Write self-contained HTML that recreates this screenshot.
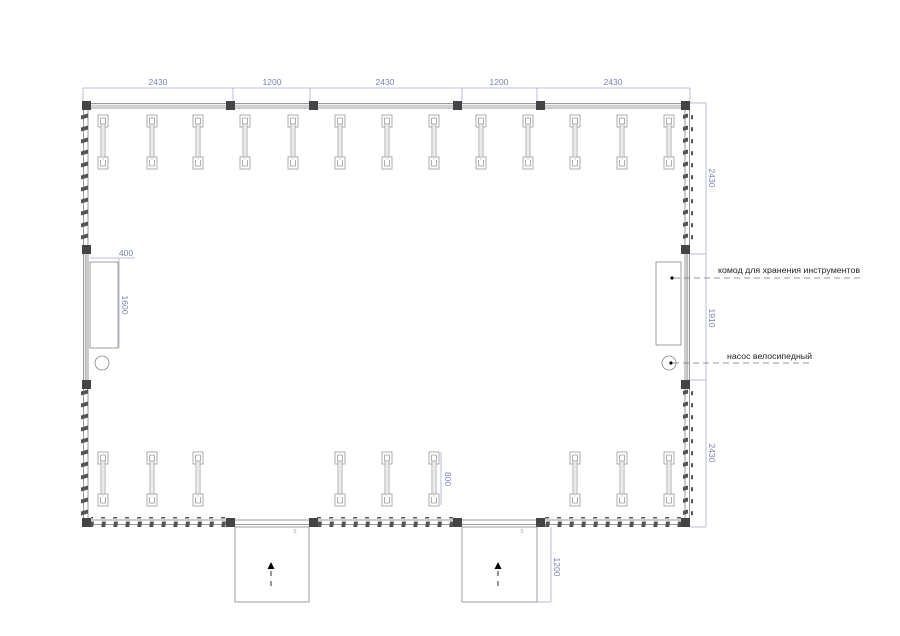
<!DOCTYPE html>
<html><head><meta charset="utf-8"><style>
html,body{margin:0;padding:0;background:#fff;width:900px;height:636px;overflow:hidden}
svg{display:block}
.d{font-family:"Liberation Sans",sans-serif;font-size:8.5px;fill:#7b80b0}
.t{font-family:"Liberation Sans",sans-serif;font-size:8.6px;fill:#222}
</style></head><body>
<svg width="900" height="636" viewBox="0 0 900 636" xmlns="http://www.w3.org/2000/svg">
<defs>
<pattern id="bh" x="1" y="0" width="12" height="10" patternUnits="userSpaceOnUse">
<polygon points="5,1.5 9,1.5 8,8.5 4,8.5" fill="#555"/>
</pattern>
<pattern id="bv" x="0" y="2" width="10" height="12" patternUnits="userSpaceOnUse">
<polygon points="1,5.5 8,3.5 8,7.5 1,9.5" fill="#555"/>
</pattern>
<g id="rack" fill="none" stroke="#999" stroke-width="0.8">
<rect x="-5" y="0" width="10" height="12"/>
<path d="M-2.5,3 V9 M2.5,3 V9 M-2.5,3 H2.5"/>
<rect x="-2" y="9" width="4" height="35" fill="#fff"/>
<rect x="-5" y="42" width="10" height="12" fill="#fff"/>
<path d="M-2.5,45 V51 H2.5 V45"/>
<line x1="0" y1="9" x2="0" y2="45" stroke="#ccc"/>
</g>
</defs>

<g stroke="#a9acd0" stroke-width="0.8" fill="none">
<line x1="83" y1="88" x2="690" y2="88"/>
<line x1="83" y1="88" x2="83" y2="103"/>
<line x1="233" y1="88" x2="233" y2="103"/>
<line x1="310" y1="88" x2="310" y2="103"/>
<line x1="462" y1="88" x2="462" y2="103"/>
<line x1="537" y1="88" x2="537" y2="103"/>
<line x1="690" y1="88" x2="690" y2="103"/>
<line x1="706" y1="103" x2="706" y2="527"/>
<line x1="690" y1="103" x2="706" y2="103"/>
<line x1="690" y1="254" x2="706" y2="254"/>
<line x1="690" y1="380" x2="706" y2="380"/>
<line x1="690" y1="527" x2="706" y2="527"/>
<line x1="551" y1="527" x2="551" y2="602"/>
<line x1="537" y1="602" x2="551" y2="602"/>
<line x1="90" y1="258" x2="135" y2="258"/>
<line x1="119" y1="258" x2="119" y2="348"/>
<line x1="441" y1="452" x2="441" y2="505"/>
</g>
<text class="d" x="158" y="85" text-anchor="middle">2430</text>
<text class="d" x="272" y="85" text-anchor="middle">1200</text>
<text class="d" x="385" y="85" text-anchor="middle">2430</text>
<text class="d" x="499" y="85" text-anchor="middle">1200</text>
<text class="d" x="613" y="85" text-anchor="middle">2430</text>
<text class="d" transform="translate(709,178) rotate(90)" text-anchor="middle">2430</text>
<text class="d" transform="translate(709,318) rotate(90)" text-anchor="middle">1910</text>
<text class="d" transform="translate(709,453) rotate(90)" text-anchor="middle">2430</text>
<text class="d" transform="translate(554,567) rotate(90)" text-anchor="middle">1200</text>
<text class="d" x="126" y="256" text-anchor="middle">400</text>
<text class="d" transform="translate(122,305) rotate(90)" text-anchor="middle">1600</text>
<text class="d" transform="translate(445,479) rotate(90)" text-anchor="middle">800</text>

<g stroke="#999" stroke-width="1" fill="none">
<line x1="87" y1="103.5" x2="685" y2="103.5"/>
<line x1="87" y1="108" x2="685" y2="108"/>
<line x1="87" y1="520" x2="685" y2="520"/>
<line x1="87" y1="524.5" x2="685" y2="524.5"/>
<line x1="83.5" y1="106" x2="83.5" y2="522"/>
<line x1="88" y1="106" x2="88" y2="522"/>
<line x1="685" y1="106" x2="685" y2="522"/>
<line x1="689.5" y1="106" x2="689.5" y2="522"/>
</g>
<line x1="87" y1="105.8" x2="685" y2="105.8" stroke="#ccc" stroke-width="2"/>
<line x1="85.8" y1="249" x2="85.8" y2="384" stroke="#bbb" stroke-width="2"/>
<line x1="687.2" y1="249" x2="687.2" y2="384" stroke="#bbb" stroke-width="2"/>
<rect x="91" y="517" width="136" height="10" fill="url(#bh)"/>
<rect x="317" y="517" width="136" height="10" fill="url(#bh)"/>
<rect x="544" y="517" width="137" height="10" fill="url(#bh)"/>
<rect x="81" y="110" width="10" height="136" fill="url(#bv)"/>
<rect x="81" y="388" width="10" height="130" fill="url(#bv)"/>
<rect x="683" y="110" width="10" height="136" fill="url(#bv)"/>
<rect x="683" y="388" width="10" height="130" fill="url(#bv)"/>

<g fill="#444">
<rect x="82" y="101" width="9" height="9"/><rect x="226" y="101" width="9" height="9"/>
<rect x="309" y="101" width="9" height="9"/><rect x="453" y="101" width="9" height="9"/>
<rect x="536" y="101" width="9" height="9"/><rect x="681" y="101" width="9" height="9"/>
<rect x="82" y="518" width="9" height="9"/><rect x="226" y="518" width="9" height="9"/>
<rect x="309" y="518" width="9" height="9"/><rect x="453" y="518" width="9" height="9"/>
<rect x="536" y="518" width="9" height="9"/><rect x="681" y="518" width="9" height="9"/>
<rect x="82" y="245" width="9" height="9"/><rect x="82" y="380" width="9" height="9"/>
<rect x="681" y="245" width="9" height="9"/><rect x="681" y="380" width="9" height="9"/>
</g>

<use href="#rack" x="103" y="115"/><use href="#rack" x="152" y="115"/>
<use href="#rack" x="198" y="115"/><use href="#rack" x="245" y="115"/>
<use href="#rack" x="293" y="115"/><use href="#rack" x="340" y="115"/>
<use href="#rack" x="387" y="115"/><use href="#rack" x="434" y="115"/>
<use href="#rack" x="481" y="115"/><use href="#rack" x="528" y="115"/>
<use href="#rack" x="575" y="115"/><use href="#rack" x="622" y="115"/>
<use href="#rack" x="669" y="115"/>
<use href="#rack" x="103" y="452"/><use href="#rack" x="152" y="452"/>
<use href="#rack" x="198" y="452"/><use href="#rack" x="340" y="452"/>
<use href="#rack" x="387" y="452"/><use href="#rack" x="434" y="452"/>
<use href="#rack" x="575" y="452"/><use href="#rack" x="622" y="452"/>
<use href="#rack" x="669" y="452"/>

<g fill="none" stroke="#888" stroke-width="0.8">
<rect x="90" y="262" width="28" height="86"/>
<circle cx="102" cy="363" r="7"/>
<rect x="656" y="262" width="25" height="83"/>
<circle cx="669" cy="363" r="7"/>
<rect x="235" y="527" width="74" height="75"/>
<rect x="462" y="527" width="75" height="75"/>
</g>
<circle cx="672" cy="278" r="1.6" fill="#000"/>
<circle cx="671" cy="363" r="1.6" fill="#000"/>
<g stroke="#777" stroke-width="0.8" stroke-dasharray="6,4">
<line x1="674" y1="278" x2="860" y2="278"/>
<line x1="673" y1="363" x2="812" y2="363"/>
</g>
<text class="t" x="718" y="273" textLength="142" lengthAdjust="spacingAndGlyphs">комод для хранения инструментов</text>
<text class="t" x="727" y="359" textLength="85" lengthAdjust="spacingAndGlyphs">насос велосипедный</text>

<text x="295" y="533" font-family="Liberation Sans,sans-serif" font-size="5" fill="#999" text-anchor="middle">0</text>
<text x="522" y="533" font-family="Liberation Sans,sans-serif" font-size="5" fill="#999" text-anchor="middle">0</text>
<polygon points="271,562 267.5,569 274.5,569" fill="#000"/>
<polygon points="498,562 494.5,569 501.5,569" fill="#000"/>
<g stroke="#000" stroke-width="0.8" stroke-dasharray="5,5">
<line x1="271" y1="571" x2="271" y2="590"/>
<line x1="498" y1="571" x2="498" y2="590"/>
</g>
</svg>
</body></html>
